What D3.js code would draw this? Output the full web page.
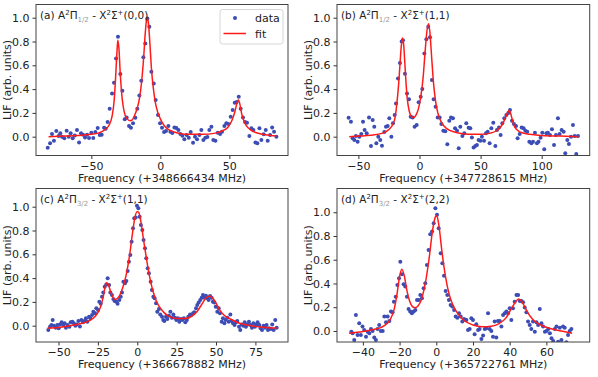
<!DOCTYPE html>
<html>
<head>
<meta charset="utf-8">
<script src="https://cdn.jsdelivr.net/npm/d3@7"></script>
<style>
body { margin: 0; background: #fff; }
svg { font-family: "DejaVu Sans", sans-serif; }
</style>
</head>
<body>
<svg id="chart" width="598" height="377"></svg>
<script>
var dotsA = [[-81.6,-0.092],[-79.9,-0.056],[-78.5,0.022],[-77.1,-0.034],[-75.4,0.048],[-73.7,0.006],[-72.5,0.028],[-71.3,0],[-69.6,-0.014],[-67.9,0.05],[-66.4,0],[-65,0.028],[-63.5,-0.014],[-62,0.011],[-60.4,0.056],[-58.9,-0.048],[-57.5,0.028],[-56,0.017],[-54.6,-0.006],[-53.1,0.017],[-51.7,-0.011],[-50,0.034],[-48.6,-0.011],[-47.1,0.039],[-45.4,0.073],[-43.9,0.014],[-42.5,0.017],[-40.8,0.076],[-39.6,0.067],[-38.2,0.123],[-36.7,0.235],[-35,0.364],[-33.6,0.454],[-32.1,0.658],[-30.7,0.84],[-29,0.527],[-27.5,0.387],[-25.8,0.146],[-24.4,0.162],[-22.7,0.09],[-21.3,0.076],[-19.8,0.112],[-18.1,0.16],[-16.7,0.235],[-15.2,0.347],[-13.8,0.471],[-12.3,0.667],[-10.9,0.784],[-9.4,0.994],[-8,0.924],[-6.5,0.546],[-4.8,0.448],[-3.4,0.308],[-1.7,0.182],[-0.2,0.112],[1.2,0.075],[2.7,0.039],[4.1,0.048],[5.8,0.09],[7.3,0.042],[8.7,0.031],[10.2,0.078],[11.6,0.073],[13.1,0.056],[14.5,0.022],[16,0.008],[17.4,-0.022],[19.1,0.014],[20.6,-0.008],[22,0.039],[23.7,-0.05],[25.1,0],[26.6,-0.022],[28.3,0.014],[29.7,0.056],[31.2,-0.028],[32.6,-0.008],[34.1,-0.003],[35.5,0.056],[37,0.084],[38.4,-0.028],[39.9,-0.034],[41.6,0.034],[43.3,0.022],[44.7,0.042],[46.4,0.09],[47.8,0.112],[49.3,0.106],[51,0.168],[52.4,0.224],[53.9,0.286],[55.3,0.291],[56.8,0.336],[58.2,0.235],[59.9,0.162],[61.4,0.123],[62.8,0.118],[64.5,0.006],[66,0.07],[67.4,0.056],[68.9,-0.048],[70.3,-0.056],[71.8,0.07],[73.2,-0.028],[74.9,0.02],[76.4,0.056],[77.8,-0.034],[79.5,0.014],[81,0.078],[82.4,0.042],[84.1,0]];
var fitA = [[-81,0],[-70,0.005],[-60,0.01],[-50,0.02],[-45,0.03],[-40,0.06],[-37,0.1],[-35,0.17],[-33.5,0.3],[-32.5,0.48],[-31.5,0.7],[-30.8,0.81],[-30,0.74],[-29,0.52],[-28,0.36],[-27,0.26],[-25.5,0.18],[-24,0.15],[-22,0.135],[-20.5,0.14],[-19,0.17],[-17,0.23],[-15,0.33],[-13.5,0.47],[-12,0.68],[-11,0.86],[-10,0.98],[-9.4,1],[-8.6,0.95],[-7.5,0.77],[-6.5,0.58],[-5,0.4],[-3.5,0.28],[-2,0.21],[0,0.15],[3,0.09],[6,0.06],[10,0.04],[15,0.025],[20,0.02],[30,0.02],[40,0.03],[45,0.05],[49,0.08],[52,0.14],[54,0.21],[55.5,0.28],[56.5,0.31],[57.5,0.28],[59,0.19],[61,0.12],[64,0.07],[68,0.04],[74,0.02],[80,0.01],[84,0.005]];

var dotsB = [[-58,0.16],[-56.1,0.126],[-54.7,-0.014],[-53.3,-0.028],[-52,0.006],[-50.6,-0.042],[-49.2,0],[-47.6,0.022],[-46.2,0.126],[-44.9,0.056],[-43.2,0.028],[-41.3,0.162],[-39.7,-0.078],[-38.3,0.14],[-37,0.084],[-35.3,-0.056],[-33.7,0],[-32.1,-0.028],[-30.7,-0.076],[-28.8,0.039],[-27.4,0.084],[-26,0.09],[-24.7,0.154],[-23,0],[-21.7,0.112],[-20.3,0.182],[-19.2,0.28],[-17.6,0.49],[-16,0.62],[-14.6,0.8],[-13.5,0.81],[-11.9,0.53],[-10.2,0.364],[-8.6,0.314],[-7.2,0.168],[-5.6,0.162],[-4,0.084],[-2.3,0.098],[-0.7,0.29],[1,0.336],[2.3,0.4],[4,0.7],[5.6,0.818],[7.2,0.924],[8.6,0.835],[10.2,0.476],[11.6,0.314],[13.2,0.252],[14.9,0.162],[16.5,0.162],[17.9,0.106],[19.5,0.05],[21.1,0.045],[22.8,-0.064],[24.4,0.134],[25.8,0.162],[27.4,0.154],[29.1,0.07],[30.7,0.05],[32.1,-0.098],[33.4,0.084],[35.1,0.006],[36.7,0.028],[38.3,0.112],[40.2,0.076],[41.6,0.07],[42.9,-0.006],[44.3,-0.09],[45.7,-0.078],[47,-0.07],[48.4,-0.028],[49.8,-0.034],[51.1,0],[52.8,-0.034],[54.4,0.028],[55.8,0.042],[57.4,-0.056],[58.8,0.07],[60.4,0.118],[62.1,-0.078],[63.4,0.056],[65.1,0.078],[66.4,0.014],[67.8,0.112],[69.4,0.154],[71.1,0.182],[72.7,0.2],[74.1,0.224],[75.7,0.134],[77.3,0.106],[79,0.09],[80.3,-0.014],[82,0.022],[83.6,0.078],[85.2,0.07],[86.6,0.05],[88.2,0.042],[89.9,-0.042],[91.5,-0.056],[92.9,-0.042],[94.5,0.034],[96.1,-0.056],[97.4,-0.042],[99.1,-0.008],[100.5,0.034],[102.1,-0.106],[103.8,0.028],[105.1,0.034],[106.8,0.014],[108.4,0.062],[110.1,-0.07],[111.7,0.014],[113.3,0.154],[114.7,0.022],[116.3,0.056],[118,0.042],[119.3,-0.14],[121,-0.028],[122.3,-0.062],[124,0],[125.6,0.098],[127,0.006],[128.3,-0.146],[129.7,0.006]];
var fitB = [[-57.5,0],[-50,0.005],[-40,0.012],[-30,0.03],[-25,0.06],[-22,0.1],[-20,0.16],[-18.5,0.28],[-17,0.45],[-16,0.6],[-15,0.75],[-14,0.83],[-13,0.78],[-12,0.62],[-11,0.45],[-10,0.32],[-8.5,0.22],[-7,0.175],[-5,0.16],[-3,0.18],[-1,0.23],[1,0.33],[3,0.5],[4.5,0.7],[6,0.88],[7.4,0.95],[8.5,0.88],[10,0.66],[11.5,0.45],[13,0.31],[15,0.2],[18,0.12],[22,0.07],[30,0.035],[40,0.02],[50,0.02],[58,0.03],[63,0.05],[67,0.09],[70,0.15],[72,0.2],[73.3,0.22],[74.5,0.2],[76,0.14],[78,0.08],[82,0.04],[90,0.02],[100,0.01],[115,0.005],[130,0]];

var dotsC = [[-56.5,-0.036],[-55.4,-0.008],[-54.5,0.006],[-53.7,0.048],[-52.9,0],[-51.8,-0.017],[-50.8,0.006],[-49.9,-0.022],[-49.1,0.011],[-48,0.028],[-47,0.006],[-46.1,0.02],[-45.3,-0.017],[-44.2,0.006],[-43.1,-0.008],[-42.3,0.028],[-41.2,0.034],[-40.3,0.02],[-39.3,0],[-38.5,0.011],[-37.4,0.039],[-36.4,-0.006],[-35.5,0.048],[-34.4,0.028],[-33.6,0.039],[-32.6,0.062],[-31.7,0.034],[-30.6,0.076],[-29.8,0.062],[-28.7,0.09],[-27.9,0.118],[-26.8,0.104],[-26,0.146],[-24.9,0.132],[-24.1,0.202],[-23.2,0.185],[-22.4,0.244],[-21.6,0.28],[-20.7,0.328],[-19.7,0.347],[-18.8,0.398],[-17.9,0.342],[-17.1,0.28],[-16.1,0.258],[-15.2,0.224],[-14.4,0.207],[-13.3,0.202],[-12.5,0.185],[-11.4,0.216],[-10.5,0.244],[-9.7,0.28],[-8.8,0.37],[-7.8,0.356],[-6.9,0.375],[-6.1,0.459],[-5.3,0.538],[-4.4,0.594],[-3.6,0.706],[-2.7,0.818],[-1.9,0.902],[-1,0.91],[-0.2,1.008],[0.7,0.986],[1.5,0.916],[2.3,0.846],[3.2,0.804],[4,0.72],[4.9,0.65],[5.7,0.566],[6.6,0.482],[7.4,0.44],[8.5,0.37],[9.3,0.3],[10.2,0.244],[11,0.23],[11.9,0.188],[12.7,0.118],[13.8,0.14],[14.6,0.095],[15.7,0.076],[16.5,0.048],[17.2,0.039],[18.2,0.076],[19.1,0.056],[20.1,0.084],[21,0.118],[22,0.067],[22.9,0.095],[23.9,0.067],[24.8,0.048],[25.8,0.062],[26.7,0.034],[27.7,0.056],[28.6,0.048],[29.6,0.062],[30.5,0.028],[31.5,0.048],[32.4,0.076],[33.5,0.095],[34.3,0.09],[35.4,0.104],[36.2,0.112],[37.3,0.146],[38.1,0.174],[39,0.196],[40,0.216],[40.9,0.235],[41.7,0.258],[42.6,0.235],[43.6,0.252],[44.5,0.23],[45.3,0.216],[46.2,0.25],[47.2,0.235],[48,0.202],[48.9,0.196],[49.8,0.16],[50.8,0.118],[51.7,0.146],[52.5,0.104],[53.6,0.034],[54.4,0.062],[55.3,0.02],[56.1,0.048],[57.2,0.067],[58,0.034],[59.1,0.095],[59.9,0.039],[60.8,0.02],[61.8,0.006],[62.7,0.028],[63.5,0.039],[64.6,-0.008],[65.4,-0.036],[66.3,0.011],[67.3,0],[68.2,0.028],[69,-0.008],[70.1,0.011],[70.9,0.034],[71.8,0.006],[72.8,-0.017],[73.7,0.02],[74.7,-0.008],[75.6,0.011],[76.4,0.028],[77.5,0.006],[78.3,-0.022],[79.2,-0.036],[80.2,0],[81.1,-0.017],[82.1,0.006],[83,-0.036],[83.8,-0.022],[84.9,-0.028],[85.7,0.011],[86.6,-0.036],[87.6,0.048],[88.5,-0.017]];
var fitC = [[-57,-0.02],[-50,-0.015],[-45,-0.005],[-40,0.005],[-35,0.02],[-30,0.045],[-27,0.075],[-25,0.11],[-23,0.17],[-21.5,0.25],[-20.5,0.32],[-19.5,0.36],[-18.5,0.35],[-17,0.29],[-15.5,0.24],[-14,0.22],[-12.5,0.23],[-11,0.26],[-9,0.33],[-7,0.43],[-5,0.58],[-3,0.78],[-1.5,0.91],[0,0.96],[1,0.95],[2.5,0.86],[4,0.72],[6,0.55],[8,0.4],[10,0.29],[12,0.21],[14,0.16],[17,0.11],[20,0.08],[25,0.06],[30,0.06],[34,0.075],[38,0.12],[41,0.18],[43.5,0.23],[45.8,0.25],[48,0.23],[50,0.19],[52,0.14],[55,0.09],[60,0.05],[65,0.02],[70,0.005],[78,-0.01],[88.5,-0.02]];

var dotsD = [[-47.4,-0.112],[-46.3,-0.006],[-45.6,-0.02],[-44.7,-0.076],[-43.8,0.135],[-42.9,-0.034],[-42,0.065],[-41.1,-0.034],[-40.2,0.037],[-39.3,0.008],[-38.3,-0.048],[-37.4,-0.006],[-36.5,-0.02],[-35.6,0.017],[-34.7,0],[-33.8,-0.056],[-32.9,-0.076],[-32,0.017],[-31.1,0.051],[-30.2,0],[-29.2,0],[-28.3,0.121],[-27.4,0.073],[-26.5,0.121],[-25.6,0.084],[-24.7,0.163],[-23.8,0.157],[-23.1,0.247],[-22.1,0.289],[-21.2,0.388],[-20.3,0.444],[-19.6,0.584],[-18.7,0.478],[-17.8,0.393],[-16.9,0.374],[-16,0.289],[-15.1,0.185],[-14.2,0.163],[-13.3,0.149],[-12.3,0.163],[-11.4,0.177],[-10.5,0.261],[-9.6,0.261],[-8.7,0.303],[-7.8,0.275],[-6.9,0.36],[-6,0.402],[-5.1,0.556],[-4.2,0.683],[-3.3,0.815],[-2.3,0.837],[-1.4,0.907],[-0.5,1.034],[0.4,0.978],[1.3,0.865],[2.4,0.654],[3.3,0.57],[4.2,0.466],[5.1,0.337],[6,0.303],[6.9,0.261],[7.8,0.219],[8.7,0.205],[9.7,0.177],[10.6,0.121],[11.5,0.112],[12.4,0.149],[13.3,0.121],[14.2,0.079],[15.1,0.101],[16,0.093],[16.4,0.093],[17.3,0.008],[18.2,0.017],[19.1,0.107],[20,0.093],[20.9,-0.028],[21.8,0.056],[22.8,0.008],[23.6,0.017],[24.6,-0.067],[25.5,-0.039],[26.4,0.017],[27.3,0.022],[28.2,0.149],[29.1,0.017],[30,0],[30.9,-0.048],[31.8,0.079],[32.7,-0.056],[33.6,0.084],[34.6,0.084],[35.5,0.037],[36.4,0.135],[37.3,0.149],[38.2,0.163],[39.1,0.149],[40,0.191],[40.9,0.093],[41.8,0.191],[42.7,0.247],[43.7,0.303],[44.6,0.303],[45.5,0.253],[46.4,0.253],[47.3,0.242],[48.2,0.197],[49.1,0.157],[50,0.079],[50.9,0.051],[51.8,0.017],[52.7,0.079],[53.7,-0.006],[54.6,0.073],[55.5,0.051],[56.4,0.185],[57.3,0.065],[58.2,0.037],[59.2,-0.006],[60.1,0],[61,0.017],[61.9,-0.02],[62.8,-0.062],[63.7,-0.084],[64.6,0.017],[65.5,0.037],[66.4,-0.09],[67.3,0.028],[68.2,-0.076],[69.1,0.037],[70,0.028],[70.9,-0.096],[71.8,-0.034],[72.7,0],[73.6,0.017]];
var fitD = [[-47.5,-0.02],[-40,-0.005],[-35,0.01],[-30,0.03],[-27,0.06],[-25,0.1],[-23,0.18],[-21.5,0.3],[-20,0.46],[-18.8,0.52],[-17.5,0.47],[-16,0.34],[-14.5,0.25],[-13,0.205],[-11.5,0.195],[-10,0.21],[-8,0.27],[-6,0.4],[-4,0.6],[-2,0.85],[-0.5,0.96],[0.3,0.97],[1.5,0.88],[3,0.68],[5,0.46],[7,0.31],[9,0.22],[12,0.14],[15,0.09],[20,0.05],[25,0.035],[30,0.04],[34,0.06],[38,0.11],[41,0.19],[43,0.24],[44.8,0.27],[46.5,0.25],[48,0.21],[50,0.15],[53,0.09],[57,0.05],[62,0.02],[68,0],[74,-0.02]];

var yTicks = [0, 0.2, 0.4, 0.6, 0.8, 1.0];
var xTicksA = [-50, 0, 50];
var xTicksB = [-50, 0, 50, 100];
var xTicksC = [-50, -25, 0, 25, 50, 75];
var xTicksD = [-40, -20, 0, 20, 40, 60];
var offsets = ['348666434', '347728615', '366678882', '365722761'];

var svg = d3.select('#chart');
var blue = '#3c4db5';

// One entry per subplot: where the axes box sits and what it spans.
var panels = [
    {tag: '(a)', sub: '1/2', band: '(0,0)', dots: dotsA, fit: fitA, ticks: xTicksA, offset: offsets[0],
     box: [36, 288, 4.5, 155.5], xd: [-90.1, 92.5], yd: [-0.158, 1.111], legend: true},
    {tag: '(b)', sub: '1/2', band: '(1,1)', dots: dotsB, fit: fitB, ticks: xTicksB, offset: offsets[1],
     box: [337, 589.7, 4.5, 155.5], xd: [-67.5, 139.3], yd: [-0.158, 1.111]},
    {tag: '(c)', sub: '3/2', band: '(1,1)', dots: dotsC, fit: fitC, ticks: xTicksC, offset: offsets[2],
     box: [36, 288, 188.5, 342], xd: [-64.3, 95.7], yd: [-0.137, 1.153]},
    {tag: '(d)', sub: '3/2', band: '(2,2)', dots: dotsD, fit: fitD, ticks: xTicksD, offset: offsets[3],
     box: [337, 589.7, 188.5, 342], xd: [-54.1, 83.6], yd: [-0.093, 1.2]}
];

var fmtX = function(d) { return d < 0 ? '\u2212' + Math.abs(d) : String(d); };

panels.forEach(function(p, i) {
    var x = d3.scaleLinear().domain(p.xd).range([p.box[0], p.box[1]]);
    var y = d3.scaleLinear().domain(p.yd).range([p.box[3], p.box[2]]);
    var g = svg.append('g');

    g.append('clipPath').attr('id', 'clip' + i)
        .append('rect')
        .attr('x', p.box[0]).attr('y', p.box[2])
        .attr('width', p.box[1] - p.box[0]).attr('height', p.box[3] - p.box[2]);

    // axes
    var xa = g.append('g')
        .attr('transform', 'translate(0,' + p.box[3] + ')')
        .call(d3.axisBottom(x).tickValues(p.ticks).tickFormat(fmtX).tickSize(3.5).tickPadding(3));
    var ya = g.append('g')
        .attr('transform', 'translate(' + p.box[0] + ',0)')
        .call(d3.axisLeft(y).tickValues(yTicks).tickFormat(d3.format('.1f')).tickSize(3.5).tickPadding(3));
    [xa, ya].forEach(function(a) {
        a.select('.domain').remove();
        a.selectAll('text').attr('font-size', 11).attr('font-family', 'DejaVu Sans').attr('fill', '#222');
        a.selectAll('line').attr('stroke', '#333');
    });

    // data and fit
    var plot = g.append('g').attr('clip-path', 'url(#clip' + i + ')');
    plot.selectAll('circle').data(p.dots).enter().append('circle')
        .attr('cx', function(d) { return x(d[0]); })
        .attr('cy', function(d) { return y(d[1]); })
        .attr('r', 2)
        .attr('fill', blue);
    var line = d3.line()
        .x(function(d) { return x(d[0]); })
        .y(function(d) { return y(d[1]); })
        .curve(d3.curveMonotoneX);
    plot.append('path')
        .attr('d', line(p.fit))
        .attr('fill', 'none')
        .attr('stroke', '#ff1a1a')
        .attr('stroke-width', 1.5);

    // frame
    g.append('rect')
        .attr('x', p.box[0]).attr('y', p.box[2])
        .attr('width', p.box[1] - p.box[0]).attr('height', p.box[3] - p.box[2])
        .attr('fill', 'none').attr('stroke', '#444').attr('stroke-width', 1);

    // panel title with super/subscripts
    var t = g.append('text')
        .attr('x', p.box[0] + 4).attr('y', p.box[2] + 14)
        .attr('font-size', 10.5).attr('fill', '#222');
    t.append('tspan').text(p.tag + ' A');
    t.append('tspan').attr('font-size', 7).attr('dy', -4).text('2');
    t.append('tspan').attr('dy', 4).text('\u03A0');
    t.append('tspan').attr('font-size', 7).attr('dy', 3).attr('fill', '#999').text(p.sub);
    t.append('tspan').attr('dy', -3).text(' - X');
    t.append('tspan').attr('font-size', 7).attr('dy', -4).text('2');
    t.append('tspan').attr('dy', 4).text('\u03A3');
    t.append('tspan').attr('font-size', 7).attr('dy', -4).text('+');
    t.append('tspan').attr('dy', 4).text(p.band);

    // axis labels
    g.append('text')
        .attr('x', (p.box[0] + p.box[1]) / 2).attr('y', p.box[3] + 26)
        .attr('text-anchor', 'middle').attr('font-size', 11).attr('fill', '#222')
        .text('Frequency (+' + p.offset + ' MHz)');
    g.append('text')
        .attr('transform', 'translate(' + (p.box[0] - 25) + ',' + ((p.box[2] + p.box[3]) / 2) + ') rotate(-90)')
        .attr('text-anchor', 'middle').attr('font-size', 11).attr('fill', '#222')
        .text('LIF (arb. units)');

    if (p.legend) {
        var lg = g.append('g');
        lg.append('rect')
            .attr('x', 220).attr('y', 9.5).attr('width', 63).attr('height', 34.5)
            .attr('rx', 2.5).attr('fill', '#fff').attr('fill-opacity', 0.8)
            .attr('stroke', '#d6d6d6');
        lg.append('circle').attr('cx', 235).attr('cy', 18).attr('r', 2).attr('fill', blue);
        lg.append('text').attr('x', 255).attr('y', 22).attr('font-size', 11).attr('fill', '#222').text('data');
        lg.append('line').attr('x1', 223.5).attr('x2', 246).attr('y1', 33.5).attr('y2', 33.5)
            .attr('stroke', '#ff1a1a').attr('stroke-width', 1.5);
        lg.append('text').attr('x', 255).attr('y', 37.5).attr('font-size', 11).attr('fill', '#222').text('fit');
    }
});
</script>
</body>
</html>
